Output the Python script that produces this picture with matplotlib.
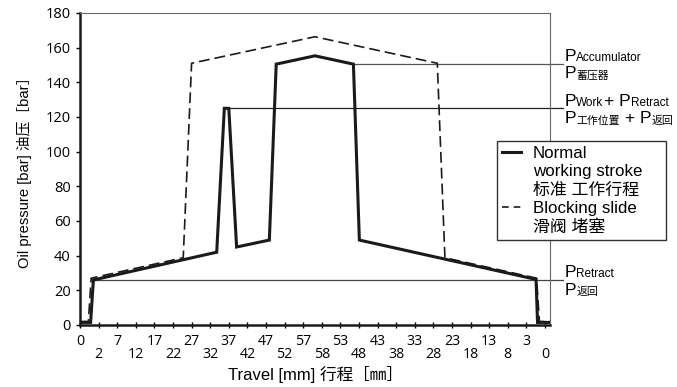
import matplotlib
matplotlib.use('Agg')
import matplotlib.pyplot as plt
from matplotlib.lines import Line2D

plt.rcParams['font.family'] = ['Open Sans', 'Noto Sans CJK SC', 'DejaVu Sans']
latin = ['Liberation Sans', 'Noto Sans CJK SC', 'DejaVu Sans']

# travel axis: tick index, forward stroke then return stroke
travel_labels = ['0', '2', '7', '12', '17', '22', '27', '32', '37', '42', '47', '52', '57',
                 '58', '53', '48', '43', '38', '33', '28', '23', '18', '13', '8', '3', '0']

normal_x = [0, 0.57, 0.72, 7.35, 7.76, 8.0, 8.42, 10.18, 10.55, 12.63, 14.7, 15.02, 24.52, 24.6, 25.27]
normal_y = [1.5, 1.5, 26, 42, 125, 125, 45, 49, 150.5, 155.3, 150.5, 49, 26.3, 1.5, 1.5]

blocking_x = [0, 0.45, 0.6, 5.55, 6.0, 12.63, 19.21, 19.62, 24.55, 24.7, 25.27]
blocking_y = [2, 2, 27, 38.8, 151, 166.3, 151, 38.8, 27, 2, 2]

p_accumulator = 150.5
p_work_retract = 125
p_retract = 25.8
ref_start = [14.7, 7.9, 0.8]

fig = plt.figure(figsize=(6.77, 3.87), dpi=100)
ax = fig.add_axes([80 / 677, 62 / 387, 470 / 677, 312 / 387])

ax.plot(normal_x, normal_y, color='#1a1a1a', lw=2.2, solid_joinstyle='miter', zorder=3)
ax.plot(blocking_x, blocking_y, color='#1a1a1a', lw=1.2, linestyle=(0, (6.5, 3)), zorder=3)

line_end = 25.97
for x0, yv, c in zip(ref_start, [p_accumulator, p_work_retract, p_retract], ['#555555', '#222222', '#444444']):
    ax.plot([x0, line_end], [yv, yv], color=c, lw=0.9, clip_on=False, zorder=2)

ax.set_xlim(0, 25.27)
ax.set_ylim(0, 180)
ax.set_yticks(range(0, 181, 20))
ax.set_xticks(range(0, 26, 2), travel_labels[0::2])
ax.set_xticks(range(1, 26, 2), travel_labels[1::2], minor=True)
ax.tick_params(axis='x', which='both', direction='inout', length=4, width=1, pad=4.3, labelsize=10.2)
ax.tick_params(axis='x', which='minor', pad=13.6)
ax.tick_params(axis='y', direction='out', length=3, width=1, pad=3.8, labelsize=10.5)

for s in ['left', 'bottom']:
    ax.spines[s].set_linewidth(1.8)
    ax.spines[s].set_color('#1a1a1a')
for s in ['top', 'right']:
    ax.spines[s].set_linewidth(0.8)
    ax.spines[s].set_color('#666666')

ax.set_ylabel('Oil pressure [bar] 油压［bar］', fontsize=10.6, family=latin, labelpad=10)
ax.set_xlabel('Travel [mm] 行程［㎜］', fontsize=12, family=latin, labelpad=3)


def p_row(yv, dy, subs):
    # subs: list of subscripts; between them a "+ P"
    p = ax.annotate('P', xy=(line_end, yv), xytext=(1, dy), textcoords='offset points',
                    fontsize=12.5, family=latin, va='baseline', ha='left', annotation_clip=False)
    prev = p
    for i, sub in enumerate(subs):
        cjk = any(ord(ch) > 255 for ch in sub)
        s = ax.annotate(sub, xy=(1, 0), xycoords=(prev, p), xytext=(0.3, 1.9),
                        textcoords='offset points', fontsize=7.8 if cjk else 8.5, family=latin,
                        va='baseline', ha='left', annotation_clip=False)
        prev = s
        if i < len(subs) - 1:
            prev = ax.annotate(' + P' if cjk else '+ P',
                               xy=(1, 0), xycoords=(s, p), fontsize=12.5, family=latin,
                               va='bottom', ha='left', annotation_clip=False)


p_row(p_accumulator, 2.4, ['Accumulator'])
p_row(p_accumulator, -10.3, ['蓄压器'])
p_row(p_work_retract, 1.7, ['Work', 'Retract'])
p_row(p_work_retract, -10.8, ['工作位置', '返回'])
p_row(p_retract, 2.4, ['Retract'])
p_row(p_retract, -10.3, ['返回'])

blank = Line2D([], [], color='none')
handles = [Line2D([], [], color='#1a1a1a', lw=2.2), blank, blank,
           Line2D([], [], color='#1a1a1a', lw=1.2, linestyle=(0, (4, 3))), blank]
labels = ['Normal', 'working stroke', '标准 工作行程', 'Blocking slide', '滑阀 堵塞']
leg = fig.legend(handles, labels, loc='upper left', mode='expand',
                 bbox_to_anchor=(497 / 677, 1 - 239 / 387, 169 / 677, 98 / 387),
                 frameon=True, fancybox=False, edgecolor='#333333', framealpha=1,
                 prop=dict(family=latin, size=12.2), handlelength=1.1, handletextpad=0.7,
                 labelspacing=0.2, borderpad=0.3, borderaxespad=0)
leg.get_frame().set_linewidth(1.0)

fig.savefig('out.png', dpi=100)
